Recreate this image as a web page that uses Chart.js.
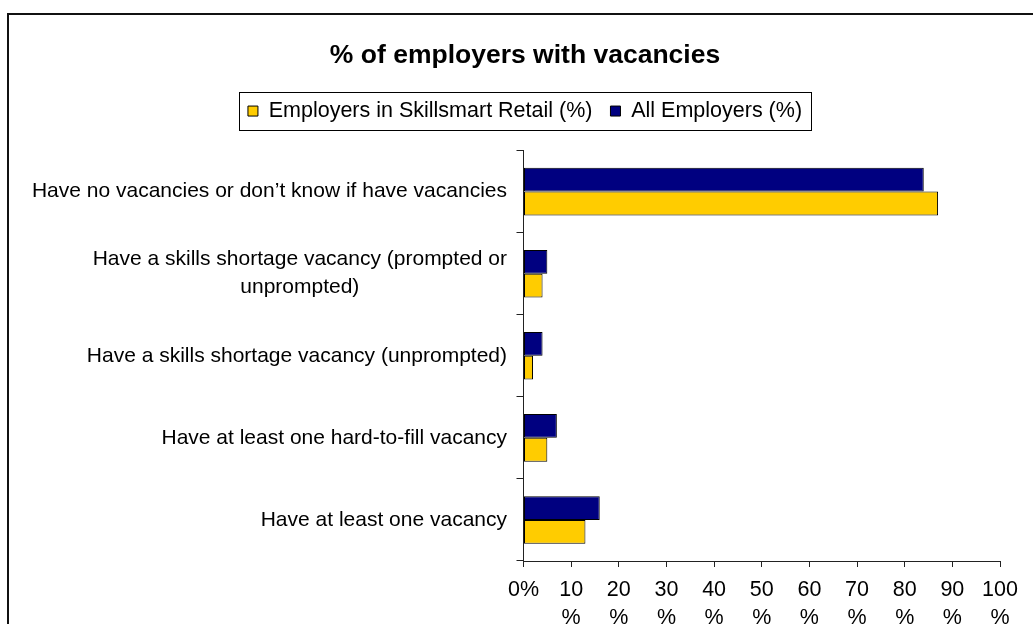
<!DOCTYPE html>
<html>
<head>
<meta charset="utf-8">
<title>% of employers with vacancies</title>
<script src="https://cdn.jsdelivr.net/npm/chart.js@4.4.1/dist/chart.umd.min.js"></script>
<style>
    body { margin: 0; background: #fff; overflow: hidden; }
    #frame {
        position: absolute; left: 7px; top: 13px; width: 1100px; height: 700px;
        border-left: 2px solid #111; border-top: 2px solid #111;
    }
    #vacancyChart { position: absolute; left: 0; top: 0; }
</style>
</head>
<body>
<div id="frame"></div>
<canvas id="vacancyChart" width="1033" height="660"></canvas>
<script>
const categories = [
    'Have no vacancies or don’t know if have vacancies',
    ['Have a skills shortage vacancy (prompted or', 'unprompted)'],
    'Have a skills shortage vacancy (unprompted)',
    'Have at least one hard-to-fill vacancy',
    'Have at least one vacancy'
];
const allEmployers = [84, 5, 4, 7, 16];
const skillsmartRetail = [87, 4, 2, 5, 13];
const xTickLabels = ['0%', ['10', '%'], ['20', '%'], ['30', '%'], ['40', '%'], ['50', '%'],
    ['60', '%'], ['70', '%'], ['80', '%'], ['90', '%'], ['100', '%']];

const FONT = '"Liberation Sans", Arial, sans-serif';
Chart.defaults.font.family = FONT;
Chart.defaults.color = '#000';

// draws the y labels: blocks right aligned, lines centred inside a block (like Excel)
const yLabelPlugin = {
    id: 'yLabels',
    afterDraw(chart) {
        const scale = chart.scales.y;
        const ctx = chart.ctx;
        const lineH = 28;
        ctx.save();
        ctx.font = '21px ' + FONT;
        ctx.fillStyle = '#000';
        ctx.textAlign = 'center';
        ctx.textBaseline = 'middle';
        const xr = scale.right - 16.5;
        categories.forEach((label, i) => {
            const lines = Array.isArray(label) ? label : [label];
            const w = Math.max(...lines.map(l => ctx.measureText(l).width));
            const yc = scale.getPixelForValue(i);
            lines.forEach((l, j) => {
                ctx.fillText(l, xr - w / 2, yc + (j - (lines.length - 1) / 2) * lineH);
            });
        });
        ctx.restore();
    }
};

// border round the legend
const legendBoxPlugin = {
    id: 'legendBox',
    afterDraw(chart) {
        const boxes = chart.legend.legendHitBoxes;
        if (!boxes || !boxes.length) return;
        const left = Math.min(...boxes.map(b => b.left)) - 9;
        const right = Math.max(...boxes.map(b => b.left + b.width)) + 9;
        const top = Math.min(...boxes.map(b => b.top)) - 8;
        const bottom = Math.max(...boxes.map(b => b.top + b.height)) + 8;
        const ctx = chart.ctx;
        ctx.save();
        ctx.strokeStyle = '#000';
        ctx.lineWidth = 1;
        ctx.strokeRect(Math.round(left) + 0.5, Math.round(top) + 0.5,
            Math.round(right - left), Math.round(bottom - top));
        ctx.restore();
    }
};

const ctx = document.getElementById('vacancyChart').getContext('2d');
const vacancyChart = new Chart(ctx, {
    type: 'bar',
    data: {
        labels: categories,
        datasets: [{
            label: 'All Employers (%)',
            data: allEmployers,
            backgroundColor: '#000080',
            borderColor: '#000',
            borderWidth: 1,
            borderSkipped: false
        }, {
            label: 'Employers in Skillsmart Retail (%)',
            data: skillsmartRetail,
            backgroundColor: '#FFCC00',
            borderColor: '#000',
            borderWidth: 1,
            borderSkipped: false
        }]
    },
    options: {
        indexAxis: 'y',
        responsive: false,
        animation: false,
        categoryPercentage: 0.58,
        barPercentage: 1,
        layout: { padding: { left: 50, right: 33, top: 0, bottom: 0 } },
        plugins: {
            title: {
                display: true,
                text: '% of employers with vacancies',
                font: { size: 26.5, weight: 'bold', lineHeight: 1.2 },
                color: '#000',
                padding: { top: 40, bottom: 10.5 }
            },
            subtitle: {
                // empty spacer between legend and plot
                display: true,
                text: '',
                weight: 500,
                font: { size: 1, lineHeight: 1 },
                padding: { top: 0, bottom: 17.75 }
            },
            legend: {
                reverse: true,
                labels: {
                    boxWidth: 10,
                    boxHeight: 10,
                    padding: 18,
                    font: { size: 21.5 },
                    color: '#000'
                }
            },
            tooltip: { enabled: false }
        },
        scales: {
            y: {
                afterFit(scale) { scale.width = 473.5; },
                ticks: { display: false },
                grid: {
                    drawOnChartArea: false,
                    drawTicks: true,
                    tickLength: 7,
                    color: '#222'
                },
                border: { display: true, color: '#222' }
            },
            x: {
                min: 0,
                max: 100,
                afterFit(scale) { scale.height = 99; },
                ticks: {
                    stepSize: 10,
                    autoSkip: false,
                    maxRotation: 0,
                    padding: 9,
                    font: { size: 21.5, lineHeight: 1.3 },
                    color: '#000',
                    callback: (value, index) => xTickLabels[index]
                },
                grid: {
                    drawOnChartArea: false,
                    drawTicks: true,
                    tickLength: 6,
                    color: '#222'
                },
                border: { display: true, color: '#222' }
            }
        }
    },
    plugins: [yLabelPlugin, legendBoxPlugin]
});
</script>
</body>
</html>
